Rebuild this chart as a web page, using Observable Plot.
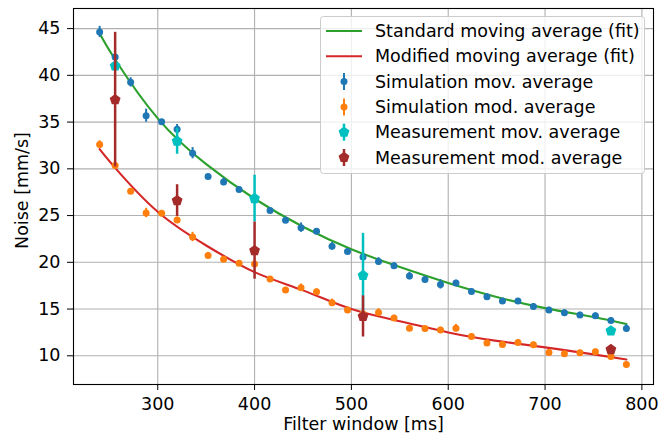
<!DOCTYPE html>
<html><head><meta charset="utf-8">
<script src="https://cdn.jsdelivr.net/npm/d3@7"></script>
<script src="https://cdn.jsdelivr.net/npm/@observablehq/plot@0.6"></script>
<style>
body{margin:0;background:#fff;}
#wrap{position:relative;width:660px;height:436px;font-family:"DejaVu Sans",sans-serif;}
</style></head><body><div id="wrap"></div>
<script>
// ---- data ----
const simWindow = [240,256,272,288,304,320,336,352,368,384,400,416,432,448,464,480,496,512,528,544,560,576,592,608,624,640,656,672,688,704,720,736,752,768,784];
const simMov = [44.64,41.96,39.25,35.68,35.04,34.24,31.67,29.18,28.6,27.78,26.8,25.53,24.5,23.71,23.32,21.71,21.15,20.57,20.1,19.64,18.53,18.17,17.64,17.78,16.89,16.32,15.86,15.86,15.28,14.89,14.6,14.36,14.28,13.78,12.92];
const simMovErr = [0.6,0.3,0.5,0.7,0.2,0.5,0.6,0.2,0.4,0.2,0.3,0.2,0.3,0.5,0.3,0.4,0.2,0.3,0.4,0.3,0.4,0.3,0.5,0.3,0.3,0.3,0.3,0.2,0.3,0.3,0.3,0.3,0.3,0.3,0.4];
const simMod = [32.6,30.35,27.6,25.28,25.25,24.53,22.71,20.74,20.32,19.89,19.82,18.21,17.04,17.28,16.85,15.67,14.9,14.5,14.64,14.04,12.96,12.92,12.75,12.96,12.07,11.36,11.21,11.43,11.17,10.35,10.21,10.32,10.43,9.92,9.07];
const simModErr = [0.4,0.2,0.3,0.5,0.2,0.3,0.5,0.3,0.2,0.2,0.3,0.2,0.2,0.4,0.3,0.4,0.3,0.3,0.4,0.3,0.3,0.2,0.3,0.4,0.3,0.3,0.3,0.3,0.3,0.3,0.3,0.2,0.3,0.3,0.3];
const measWindow = [256,320,400,512,768];
const measMov = [41.0,32.96,26.82,18.6,12.67];
const measMovErr = [0.3,1.4,2.5,4.5,0.3];
const measMod = [37.4,26.6,21.25,14.21,10.67];
const measModErr = [7.2,1.7,3.05,2.2,0.3];
const fitWindow = [240,256,300,350,400,450,500,550,600,650,700,750,784];
const fitStd = [44.5,41.7,35.4,30.5,26.8,23.8,21.4,19.5,17.8,16.3,15.1,14.15,13.4];
const fitMod = [32.1,30.1,25.4,21.8,18.95,17.0,15.0,13.7,12.5,11.6,10.9,10.15,9.6];
const xTicks = [300,400,500,600,700,800];
const yTicks = [10,15,20,25,30,35,40,45];
const legendLabels = ["Standard moving average (fit)","Modified moving average (fit)","Simulation mov. average","Simulation mod. average","Measurement mov. average","Measurement mod. average"];
const legendKinds = ["line","line","circle","circle","pentagon","pentagon"];
const legendColors = ["#2ca02c","#d62728","#1f77b4","#ff7f0e","#00bfbf","#a52a2a"];
const C = {green:"#2ca02c", red:"#d62728", blue:"#1f77b4", orange:"#ff7f0e", cyan:"#00bfbf", brown:"#a52a2a"};

// ---- tables ----
const sim = simWindow.map((w,i)=>({w, mov:simMov[i], movErr:simMovErr[i], mod:simMod[i], modErr:simModErr[i]}));
const meas = measWindow.map((w,i)=>({w, mov:measMov[i], movErr:measMovErr[i], mod:measMod[i], modErr:measModErr[i]}));
const fit = fitWindow.map((w,i)=>({w, std:fitStd[i], mod:fitMod[i]}));

const pentagon = {
  draw(context, size) {
    const r = Math.sqrt(size / Math.PI);
    for (let i = 0; i < 5; i++) {
      const a = -Math.PI/2 + i*2*Math.PI/5;
      const x = r*Math.cos(a), y = r*Math.sin(a);
      if (i) context.lineTo(x,y); else context.moveTo(x,y);
    }
    context.closePath();
  }
};

const FS = 17.5;
const grid = {stroke:"#b0b0b0", strokeOpacity:1, strokeWidth:1.1};
const chart = Plot.plot({
  width:660, height:436,
  marginLeft:73, marginRight:7, marginTop:8, marginBottom:52,
  style:{fontFamily:"DejaVu Sans", fontSize:FS+"px", color:"#000", background:"#fff"},
  x:{domain:[213,812], label:null},
  y:{domain:[6.93,47.15], label:null},
  marks:[
    Plot.gridX(xTicks, grid),
    Plot.gridY(yTicks, grid),
    Plot.line(fit, {x:"w", y:"std", stroke:C.green, strokeWidth:2.1, curve:"natural"}),
    Plot.line(fit, {x:"w", y:"mod", stroke:C.red, strokeWidth:2.1, curve:"natural"}),
    Plot.ruleX(sim, {x:"w", y1:d=>d.mov-d.movErr, y2:d=>d.mov+d.movErr, stroke:C.blue, strokeWidth:2}),
    Plot.dot(sim, {x:"w", y:"mov", r:3.5, fill:C.blue, stroke:null}),
    Plot.ruleX(sim, {x:"w", y1:d=>d.mod-d.modErr, y2:d=>d.mod+d.modErr, stroke:C.orange, strokeWidth:2}),
    Plot.dot(sim, {x:"w", y:"mod", r:3.5, fill:C.orange, stroke:null}),
    Plot.ruleX(meas, {x:"w", y1:d=>d.mov-d.movErr, y2:d=>d.mov+d.movErr, stroke:C.cyan, strokeWidth:2.5}),
    Plot.dot(meas, {x:"w", y:"mov", r:5.7, symbol:pentagon, fill:C.cyan, stroke:null}),
    Plot.ruleX(meas, {x:"w", y1:d=>d.mod-d.modErr, y2:d=>d.mod+d.modErr, stroke:C.brown, strokeWidth:2.5}),
    Plot.dot(meas, {x:"w", y:"mod", r:5.7, symbol:pentagon, fill:C.brown, stroke:null}),
    Plot.frame({stroke:"#000", strokeWidth:1.1}),
    Plot.axisX({ticks:xTicks, tickSize:6, tickPadding:7, label:null, stroke:"#000", fill:"#000"}),
    Plot.axisY({ticks:yTicks, tickSize:6, tickPadding:7, label:null, stroke:"#000", fill:"#000"}),
    Plot.text(["Filter window [ms]"], {text:d=>d, frameAnchor:"bottom", textAnchor:"middle", lineAnchor:"middle", dy:40, fill:"#000"}),
    Plot.text(["Noise [mm/s]"], {text:d=>d, frameAnchor:"left", textAnchor:"middle", lineAnchor:"middle", rotate:-90, dx:-51, dy:-6, fill:"#000"})
  ]
});
const wrap = document.getElementById("wrap");
wrap.appendChild(chart);

// ---- legend (inside the axes, upper right) ----
const lg = d3.select(wrap).append("svg")
  .attr("width",326).attr("height",160)
  .style("position","absolute").style("left","319.5px").style("top","16px")
  .style("font-family","DejaVu Sans").style("font-size",FS+"px");
lg.append("rect").attr("x",0.5).attr("y",0.5).attr("width",324).attr("height",157).attr("rx",3)
  .attr("fill","rgba(255,255,255,0.8)").attr("stroke","#cccccc").attr("stroke-width",1);
legendLabels.forEach((label,i)=>{
  const cy = 15 + i*25.3;
  const g = lg.append("g");
  const col = legendColors[i];
  if (legendKinds[i]==="line") {
    g.append("line").attr("x1",6).attr("x2",42).attr("y1",cy).attr("y2",cy).attr("stroke",col).attr("stroke-width",2.1);
  } else if (legendKinds[i]==="circle") {
    g.append("line").attr("x1",24).attr("x2",24).attr("y1",cy-8.5).attr("y2",cy+8.5).attr("stroke",col).attr("stroke-width",2);
    g.append("circle").attr("cx",24).attr("cy",cy).attr("r",3.5).attr("fill",col);
  } else {
    g.append("line").attr("x1",24).attr("x2",24).attr("y1",cy-8.5).attr("y2",cy+8.5).attr("stroke",col).attr("stroke-width",2.5);
    const p = d3.path(); pentagon.draw(p, Math.PI*5.7*5.7);
    g.append("path").attr("d",p.toString()).attr("transform",`translate(24,${cy})`).attr("fill",col);
  }
  g.append("text").attr("x",55).attr("y",cy).attr("dy","0.35em").attr("fill","#000").text(label);
});
</script></body></html>
